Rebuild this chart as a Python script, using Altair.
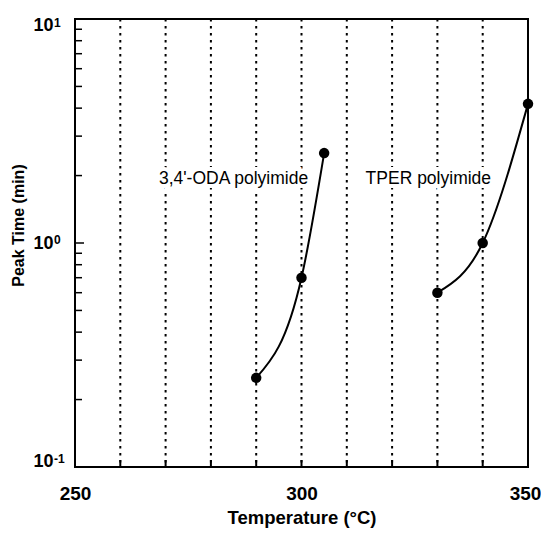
import altair as alt
import pandas as pd

# Data
oda_temp = [290, 300, 305]
oda_time = [0.25, 0.70, 2.52]
tper_temp = [330, 340, 350]
tper_time = [0.60, 1.00, 4.18]

series_labels = ["3,4'-ODA polyimide", "TPER polyimide"]
label_temp = [285, 328]
label_time = [1.93, 1.93]

grid_temps = [260, 270, 280, 290, 300, 310, 320, 330, 340]
xtick_values = [250, 300, 350]
ytick_values = [0.1, 1, 10]
ytick_exponents = ["-1", "0", "1"]
exponent_dy = [-13, -8, -1]
minor_y = [m * d for d in [0.1, 1] for m in range(2, 10)]
major_y_inner = [1]

FONT = "Liberation Sans"
W, H = 453, 448

pts = pd.DataFrame({
    "temp": oda_temp + tper_temp,
    "time": oda_time + tper_time,
    "series": ["oda"] * len(oda_temp) + ["tper"] * len(tper_temp),
})
labels = pd.DataFrame({"temp": label_temp, "time": label_time, "text": series_labels})
grid = pd.DataFrame({"temp": grid_temps})
minor = pd.DataFrame({"time": minor_y})
major = pd.DataFrame({"time": major_y_inner})

xscale = alt.Scale(domain=[250, 350], nice=False, zero=False)
yscale = alt.Scale(type="log", domain=[0.1, 10], nice=False)

xaxis = alt.Axis(values=xtick_values, ticks=False, domain=False, grid=False, labelFlush=False,
                 labelOffset={"condition": {"test": f"datum.value >= {xtick_values[-1]}", "value": -3},
                              "value": 0},
                 labelFont=FONT, labelFontSize=19, labelFontWeight="bold",
                 labelPadding=17, title="Temperature (\u00b0C)", titleFont=FONT,
                 titleFontSize=18.5, titleFontWeight="bold", titlePadding=5,
                 labelColor="black", titleColor="black")
yaxis = alt.Axis(values=ytick_values, labelExpr="'10'", labelFlush=False, ticks=False,
                 labelBaseline="middle",
                 labelOffset={"condition": [
                     {"test": f"datum.value <= {ytick_values[0]} * 1.01", "value": -6},
                     {"test": f"datum.value >= {ytick_values[-1]} * 0.99", "value": 6}],
                     "value": 0},
                 domain=False, grid=False, labelFont=FONT, labelFontSize=18,
                 labelFontWeight="bold", labelPadding=22, title="Peak Time (min)",
                 titleFont=FONT, titleFontSize=16, titleFontWeight="bold",
                 titleX=-57, titleY=206, titleBaseline="middle", titleAlign="center",
                 titleAngle=270, labelColor="black", titleColor="black")

lines = alt.Chart(pts).mark_line(color="black", strokeWidth=2, interpolate="monotone").encode(
    x=alt.X("temp:Q", scale=xscale, axis=xaxis),
    y=alt.Y("time:Q", scale=yscale, axis=yaxis),
    detail="series:N",
)
gridlines = alt.Chart(grid).mark_rule(color="black", strokeWidth=2, strokeDash=[2.5, 4.5]).encode(
    x=alt.X("temp:Q")
)
bottom_ticks = alt.Chart(grid).mark_rule(color="black", strokeWidth=2).encode(
    x=alt.X("temp:Q"),
    y=alt.value(H), y2=alt.value(H - 7)
)
minor_ticks = alt.Chart(minor).mark_rule(color="black", strokeWidth=1.5).encode(
    y=alt.Y("time:Q"),
    x=alt.value(0), x2=alt.value(7)
)
major_ticks = alt.Chart(major).mark_rule(color="black", strokeWidth=1.5).encode(
    y=alt.Y("time:Q"),
    x=alt.value(0), x2=alt.value(9)
)
dots = alt.Chart(pts).mark_circle(color="black", size=110, opacity=1).encode(
    x="temp:Q", y="time:Q"
)
halo = alt.Chart(labels).mark_text(font=FONT, fontSize=17.5, stroke="white", strokeWidth=8,
                                   fill="white").encode(
    x="temp:Q", y="time:Q", text="text:N"
)
text = alt.Chart(labels).mark_text(font=FONT, fontSize=17.5, color="black").encode(
    x="temp:Q", y="time:Q", text="text:N"
)

exp_layers = []
for v, e, d in zip(ytick_values, ytick_exponents, exponent_dy):
    df = pd.DataFrame({"time": [v], "text": [e]})
    exp_layers.append(
        alt.Chart(df).mark_text(font=FONT, fontSize=12, fontWeight="bold", color="black",
                                align="left", baseline="top", dy=d).encode(
            y=alt.Y("time:Q"), x=alt.value(-21), text="text:N"
        )
    )

chart = alt.layer(lines, gridlines, bottom_ticks, minor_ticks, major_ticks, halo, text, dots,
                  *exp_layers).properties(
    width=W, height=H, autosize=alt.AutoSizeParams(type="none"),
    padding={"left": 67, "top": 11, "right": 13, "bottom": 62}
).configure(background="white").configure_view(stroke="black", strokeWidth=2)

chart.save("out.html", embed_options={"renderer": "svg", "actions": False})
